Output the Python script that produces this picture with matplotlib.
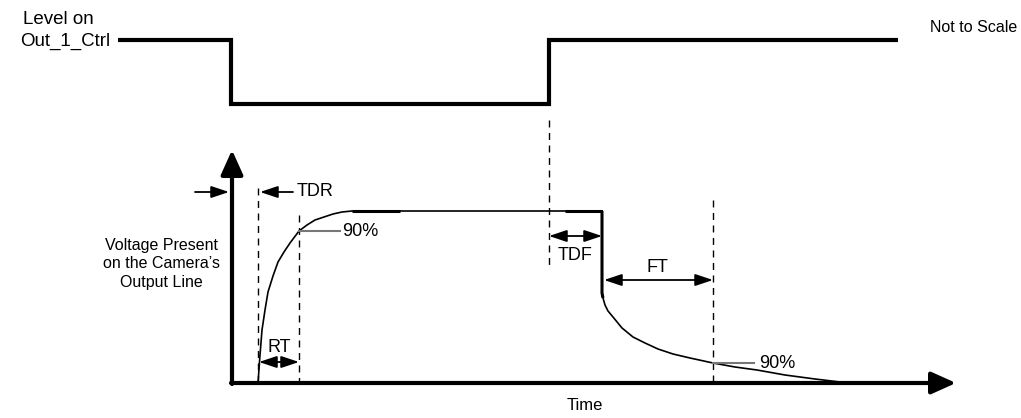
import matplotlib
matplotlib.use("Agg")
import matplotlib.pyplot as plt

plt.rcParams['font.family'] = ['Liberation Sans', 'DejaVu Sans']

# Control signal (pixel-space schematic)
ctrl_x = [118, 231, 231, 549, 549, 898]
ctrl_y = [40, 40, 104, 104, 40, 40]

# Output voltage response
rise_x = [258, 260, 262, 265, 268, 273, 278, 284, 290, 299, 307, 315, 324, 333, 342, 352, 400, 548, 602]
rise_y = [383, 355, 330, 310, 292, 276, 262, 252, 243, 231, 225, 220, 217, 214, 212, 211, 211, 211, 211]
fall_x = [602, 602, 603, 605, 608, 613, 622, 633, 645, 658, 673, 690, 713, 735, 757, 785, 815, 840, 860]
fall_y = [211, 293, 298, 305, 311, 317, 328, 337, 343, 349, 354, 358, 363, 367, 370, 375, 379, 382, 383]

# Dashed markers: x, y_top, y_bottom
dash_x = [258, 299, 549, 713]
dash_top = [188, 215, 120, 200]
dash_bot = [383, 383, 268, 383]

fig = plt.figure(figsize=(10.21, 4.18), dpi=100)
ax = fig.add_axes([0, 0, 1, 1])
ax.set_xlim(0, 1021)
ax.set_ylim(418, 0)
ax.axis('off')

# control signal
ax.plot(ctrl_x, ctrl_y, color='black', lw=3, solid_joinstyle='miter', solid_capstyle='butt')

# axes with arrows
ax.annotate('', xy=(232, 150), xytext=(232, 384),
            arrowprops=dict(arrowstyle='-|>,head_length=1.0,head_width=0.45', lw=3, color='black',
                            shrinkA=0, shrinkB=0, mutation_scale=15))
ax.annotate('', xy=(956, 383), xytext=(231, 383),
            arrowprops=dict(arrowstyle='-|>,head_length=1.0,head_width=0.45', lw=3, color='black',
                            shrinkA=0, shrinkB=0, mutation_scale=15))

# response curves
ax.plot(rise_x, rise_y, color='black', lw=1.2)
ax.plot([352, 400], [211, 211], color='black', lw=2.2, solid_capstyle='butt')
ax.plot([565, 602], [211, 211], color='black', lw=2.2, solid_capstyle='butt')
ax.plot(fall_x[:3], fall_y[:3], color='black', lw=2.2, solid_capstyle='butt')
ax.plot(fall_x, fall_y, color='black', lw=1.2)

# dashed lines
for x, t, b in zip(dash_x, dash_top, dash_bot):
    ax.plot([x, x], [t, b], color='black', lw=1, ls=(0, (5, 4)))

# gray 90% leaders
ax.plot([299, 340], [231, 231], color='#777777', lw=1.5)
ax.plot([713, 754], [363, 363], color='#777777', lw=1.5)

def arr(x0, y0, x1, y1, both=False):
    style = '<|-|>' if both else '-|>'
    ax.annotate('', xy=(x1, y1), xytext=(x0, y0),
                arrowprops=dict(arrowstyle=style + ',head_length=0.9,head_width=0.3', lw=1.3,
                                color='black', shrinkA=0, shrinkB=0, mutation_scale=12))

# single arrows
arr(195, 192, 229, 192)
arr(293, 192, 260, 192)
# double arrows
arr(259, 362, 299, 362, both=True)
arr(549, 236, 602, 236, both=True)
arr(604, 280, 713, 280, both=True)

fs = 13
ax.text(58, 19, 'Level on', ha='center', va='center', fontsize=13.5)
ax.text(110, 41, 'Out_1_Ctrl', ha='right', va='center', fontsize=13.5)
ax.text(1017, 28, 'Not to Scale', ha='right', va='center', fontsize=11.5)
ax.text(161, 264, "Voltage Present\non the Camera\u2019s\nOutput Line", ha='center', va='center',
        fontsize=11.5, linespacing=1.3)
ax.text(297, 192, 'TDR', ha='left', va='center', fontsize=fs)
ax.text(342, 231, '90%', ha='left', va='center', fontsize=fs)
ax.text(279, 347, 'RT', ha='center', va='center', fontsize=fs)
ax.text(575, 255, 'TDF', ha='center', va='center', fontsize=fs)
ax.text(657, 268, 'FT', ha='center', va='center', fontsize=fs)
ax.text(759, 363, '90%', ha='left', va='center', fontsize=fs)
ax.text(585, 406, 'Time', ha='center', va='center', fontsize=12)

fig.savefig('out.png', dpi=100)
